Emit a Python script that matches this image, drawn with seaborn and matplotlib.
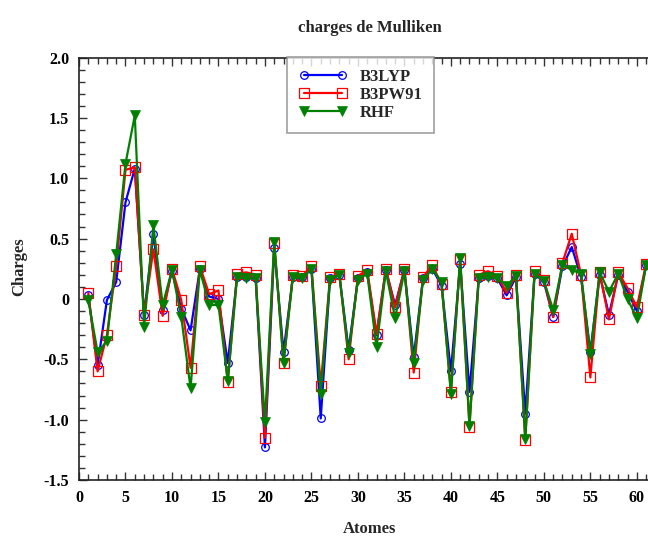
import numpy as np
import pandas as pd
import matplotlib
matplotlib.use("Agg")
import matplotlib.pyplot as plt
from matplotlib.ticker import MultipleLocator, FuncFormatter
import seaborn as sns

atoms = list(range(1, 62))

b3lyp = [0.03, -0.55, -0.01, 0.14, 0.80, 1.08, -0.13, 0.54, -0.09, 0.23,
         -0.08, -0.26, 0.25, 0.02, 0.00, -0.53, 0.18, 0.18, 0.17, -1.23,
         0.42, -0.44, 0.18, 0.18, 0.25, -0.99, 0.17, 0.20, -0.42, 0.17,
         0.22, -0.30, 0.24, -0.05, 0.24, -0.48, 0.17, 0.25, 0.11, -0.60,
         0.29, -0.77, 0.17, 0.19, 0.17, 0.03, 0.18, -0.95, 0.21, 0.14,
         -0.15, 0.27, 0.43, 0.18, -0.44, 0.20, -0.13, 0.20, 0.06, -0.10,
         0.28]

b3pw91 = [0.05, -0.60, -0.30, 0.27, 1.07, 1.09, -0.13, 0.41, -0.14, 0.25,
          -0.01, -0.57, 0.27, 0.04, 0.07, -0.69, 0.21, 0.22, 0.20, -1.15,
          0.46, -0.53, 0.20, 0.19, 0.27, -0.72, 0.18, 0.21, -0.50, 0.19,
          0.24, -0.29, 0.25, -0.07, 0.25, -0.61, 0.18, 0.28, 0.12, -0.77,
          0.33, -1.06, 0.20, 0.23, 0.19, 0.05, 0.20, -1.17, 0.23, 0.16,
          -0.15, 0.30, 0.54, 0.20, -0.65, 0.22, -0.17, 0.22, 0.09, -0.07,
          0.29]

rhf = [-0.01, -0.44, -0.35, 0.37, 1.12, 1.52, -0.23, 0.61, -0.05, 0.24,
       -0.15, -0.74, 0.24, -0.05, -0.05, -0.68, 0.18, 0.17, 0.17, -1.02,
       0.47, -0.53, 0.18, 0.17, 0.25, -0.79, 0.16, 0.20, -0.45, 0.16,
       0.21, -0.40, 0.23, -0.16, 0.23, -0.53, 0.16, 0.25, 0.14, -0.79,
       0.34, -1.05, 0.17, 0.18, 0.17, 0.11, 0.19, -1.16, 0.21, 0.15,
       -0.09, 0.28, 0.24, 0.21, -0.46, 0.22, 0.06, 0.21, 0.00, -0.16,
       0.28]

series = ["B3LYP", "B3PW91", "RHF"]

sns.set_theme(style="white")
plt.rcParams["font.family"] = ["Liberation Serif", "DejaVu Serif"]
plt.rcParams["font.weight"] = "bold"
plt.rcParams["legend.numpoints"] = 2

W, H = 648, 536
fig = plt.figure(figsize=(W / 100, H / 100), dpi=100)
ax = fig.add_axes([79 / W, 1 - 480 / H, 1 - 79 / W, (480 - 57.5) / H])

styles = {
    "B3LYP": dict(color="#0000ff", marker="o", markerfacecolor="none",
                  markeredgecolor="#0000ff", markersize=5.5, markeredgewidth=0.9),
    "B3PW91": dict(color="#ff0000", marker="s", markerfacecolor="none",
                   markeredgecolor="#ff0000", markersize=6.5, markeredgewidth=0.9),
    "RHF": dict(color="#008000", marker="v", markerfacecolor="#008000",
                markeredgecolor="#008000", markersize=7.5, markeredgewidth=0.5),
}
values = {"B3LYP": b3lyp, "B3PW91": b3pw91, "RHF": rhf}

for name in series:
    df = pd.DataFrame({"Atome": atoms, "Charge": values[name]})
    sns.lineplot(data=df, x="Atome", y="Charge", ax=ax, label=name,
                 linewidth=1.6, estimator=None, **styles[name])

ax.set_xlim(0, 61.2)
ax.set_ylim(-1.5, 2.0)

ax.xaxis.set_major_locator(MultipleLocator(5))
ax.xaxis.set_minor_locator(MultipleLocator(1))
ax.yaxis.set_major_locator(MultipleLocator(0.5))
ax.yaxis.set_minor_locator(MultipleLocator(0.1))


def fmt_y(v, _pos):
    if abs(v) < 1e-9:
        return "0"
    return f"{v:.1f}"


ax.yaxis.set_major_formatter(FuncFormatter(fmt_y))
ax.tick_params(axis="both", which="both", direction="in", colors="#333333",
               labelcolor="black", labelsize=11.5, width=1)
ax.tick_params(axis="x", which="both", top=True, bottom=True)
ax.tick_params(axis="y", which="both", left=True, right=False)
ax.tick_params(which="major", length=6)
ax.tick_params(which="minor", length=4)
ax.tick_params(axis="x", pad=7)
ax.tick_params(axis="y", pad=7)
for lab in ax.get_xticklabels() + ax.get_yticklabels():
    lab.set_fontweight("bold")

for side in ["left", "bottom", "top"]:
    ax.spines[side].set_visible(True)
    ax.spines[side].set_color("#222222")
    ax.spines[side].set_linewidth(1.2)
ax.spines["right"].set_visible(False)

ax.set_xlabel("Atomes", fontsize=12, fontweight="bold")
ax.set_ylabel("Charges", fontsize=12, fontweight="bold")
ax.xaxis.set_label_coords((370 - 79) / 569, (480 - 529) / 422.5)
ax.yaxis.set_label_coords((19 - 79) / 569, (480 - 267) / 422.5)
ax.xaxis.label.set_va("center")
ax.yaxis.label.set_va("center")

fig.text(370 / W, 1 - 28 / H, "charges de Mulliken", ha="center", va="center",
         fontsize=12, fontweight="bold")

leg = ax.legend(loc="upper left", bbox_to_anchor=((287 - 79) / 569, 1.0),
                frameon=True, fancybox=False, edgecolor="#888888",
                prop={"weight": "bold", "size": 12}, handlelength=2.9,
                borderpad=0.7, labelspacing=0.12, handletextpad=0.75,
                borderaxespad=0)
leg.get_frame().set_linewidth(1.2)
leg.set_zorder(10)

fig.savefig("out.png", dpi=100)
